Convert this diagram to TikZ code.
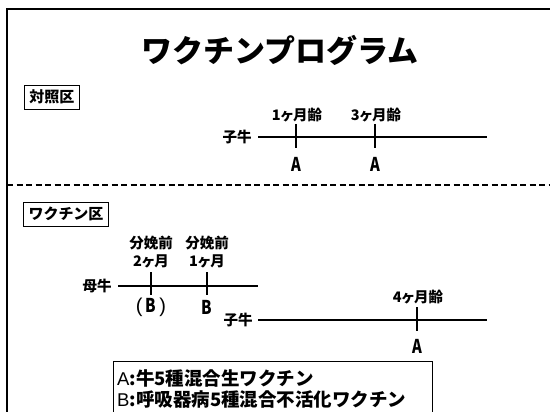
\documentclass[tikz,border=0pt]{standalone}
\usepackage{fontspec}
\newfontfamily\jp{Noto Sans CJK JP}
\newfontfamily\jpp{Noto Sans CJK JP}[RawFeature=+palt]
\newfontfamily\lat{Liberation Sans}
\begin{document}
\begin{tikzpicture}[x=1pt,y=-1pt,
  frameline/.style={line width=2.6pt},
  sepline/.style={line width=1.4pt, dash pattern=on 6pt off 3.5pt},
  tl/.style={line width=1.4pt},
  tk/.style={line width=1.4pt},
  grp/.style={draw, line width=0.9pt, inner xsep=5pt, minimum height=24pt, font=\jp\bfseries\fontsize{15}{17}\selectfont},
  lbl/.style={inner sep=0pt, align=center, font=\jpp\bfseries\fontsize{14.5}{18}\selectfont},
  dose/.style={inner sep=0pt, font=\jp\bfseries\fontsize{19}{20}\selectfont},
  leg/.style={inner sep=0pt, anchor=west, font=\jp\bfseries\fontsize{18.5}{20}\selectfont}]
\useasboundingbox (0,0) rectangle (550,412);
% frame
\coordinate (fTR) at (550,9);
\coordinate (fTL) at (7,9);
\coordinate (fBL) at (7,412);
\draw[frameline] (fTR) -- (fTL) -- (fBL);
% title
\node[inner sep=0pt, font=\jp\bfseries\fontsize{31}{33}\selectfont] (title) at (280,50) {ワクチンプログラム};
% control group
\node[grp] (ctl) at (52,97) {対照区};
\node[lbl] (c1lab) at (237,137) {子牛};
\coordinate (c1s) at (258,137);
\coordinate (c1e) at (487,137);
\draw[tl] (c1s) -- (c1e);
\coordinate (t1a) at (296,124); \coordinate (t1b) at (296,148);
\coordinate (t2a) at (375,124); \coordinate (t2b) at (375,148);
\draw[tk] (t1a) -- (t1b);
\draw[tk] (t2a) -- (t2b);
\node[lbl] (m1) at (297,115) {1ヶ月齢};
\node[lbl] (m3) at (376,115) {3ヶ月齢};
\node[dose] (a1) at (296,164) {\scalebox{0.78}[1]{A}};
\node[dose] (a2) at (375,164) {\scalebox{0.78}[1]{A}};
% separator
\coordinate (sepL) at (7,185);
\coordinate (sepR) at (550,185);
\draw[sepline] (sepL) -- (sepR);
% vaccine group
\node[grp] (vac) at (66,214) {ワクチン区};
\node[lbl] (damlab) at (97,286) {母牛};
\coordinate (ds) at (118,286);
\coordinate (de) at (258,286);
\draw[tl] (ds) -- (de);
\coordinate (d1a) at (151,272); \coordinate (d1b) at (151,295);
\coordinate (d2a) at (207,272); \coordinate (d2b) at (207,295);
\draw[tk] (d1a) -- (d1b);
\draw[tk] (d2a) -- (d2b);
\node[lbl] (p2) at (151,252) {分娩前\\2ヶ月};
\node[lbl] (p1) at (207,252) {分娩前\\1ヶ月};
\node[dose] (b1) at (151,307) {{\lat\mdseries\fontsize{20}{20}\selectfont(}\,\scalebox{0.8}[1]{B}\,{\lat\mdseries\fontsize{20}{20}\selectfont)}};
\node[dose] (b2) at (207,307) {\scalebox{0.8}[1]{B}};
\node[lbl] (c2lab) at (238,320) {子牛};
\coordinate (c2s) at (258,320);
\coordinate (c2e) at (487,320);
\draw[tl] (c2s) -- (c2e);
\coordinate (t4a) at (417,307); \coordinate (t4b) at (417,331);
\draw[tk] (t4a) -- (t4b);
\node[lbl] (m4) at (418,297) {4ヶ月齢};
\node[dose] (a3) at (417,346) {\scalebox{0.78}[1]{A}};
% legend
\coordinate (lgBL) at (113,412);
\coordinate (lgTL) at (113,361);
\coordinate (lgTR) at (432,361);
\coordinate (lgBR) at (432,412);
\draw[line width=0.9pt] (lgBL) -- (lgTL) -- (lgTR) -- (lgBR);
\node[leg] (legA) at (117,378) {{\lat\mdseries A}:牛5種混合生ワクチン};
\node[leg] (legB) at (117,399) {{\lat\mdseries B}:呼吸器病5種混合不活化ワクチン};
\end{tikzpicture}
\end{document}
